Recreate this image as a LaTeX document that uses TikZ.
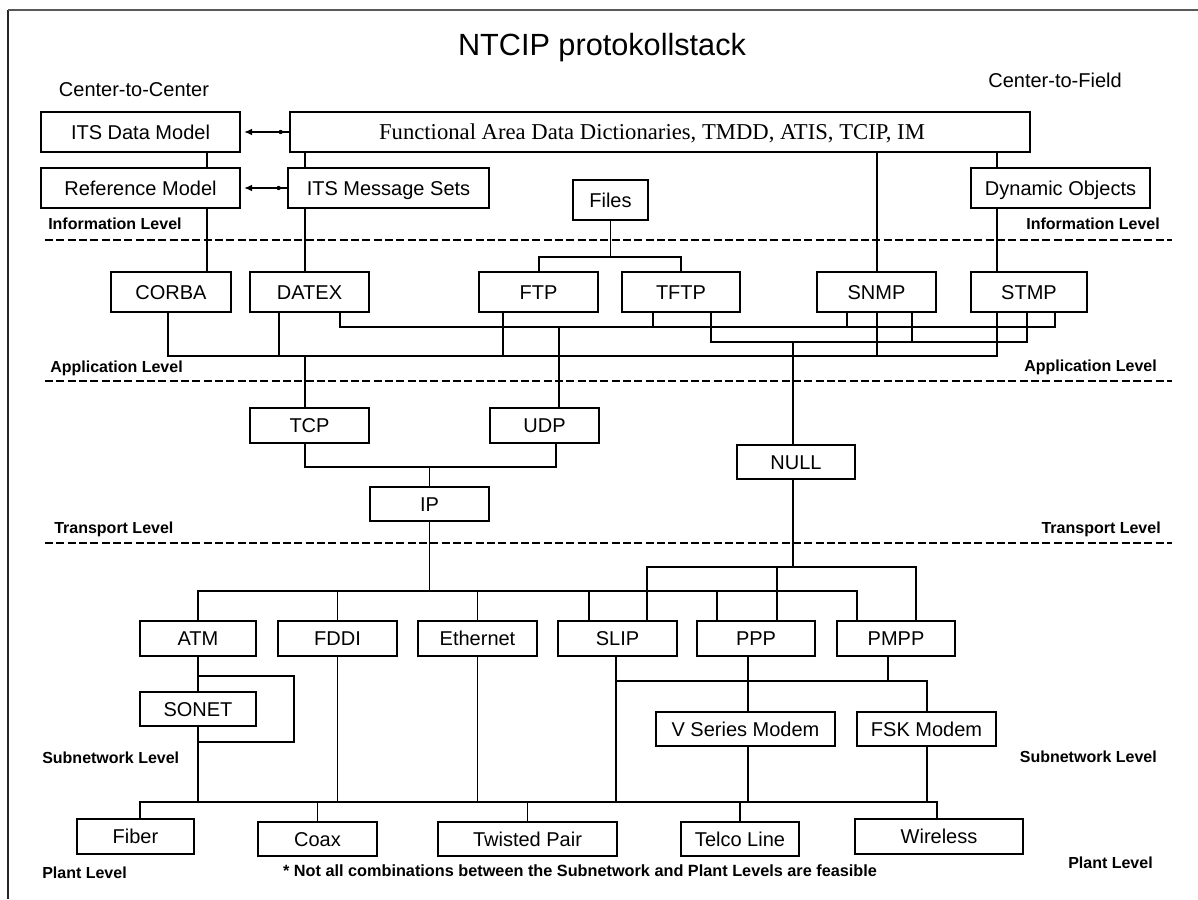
\documentclass[tikz,border=0pt]{standalone}
\usepackage{fontspec}
\setmainfont{Liberation Sans}
\newfontfamily\serifface{Liberation Serif}
\usetikzlibrary{arrows.meta}

% box given by its corners in pixel units: name, x1, y1, x2, y2, text
\newcommand\stackbox[6]{%
  \node[box, minimum width={(#4-#2)*0.75pt}, minimum height={(#5-#3)*0.75pt}]
    (#1) at ({(#2+#4)/2},{(#3+#5)/2}) {#6};}

\begin{document}
\begin{tikzpicture}[x=0.75pt,y=-0.75pt,
  box/.style={draw, line width=1.2pt, inner sep=0pt, outer sep=0pt, fill=white,
    font=\fontsize{15}{18}\selectfont, text height=10.7pt, text depth=0pt},
  wire/.style={line width=1.2pt},
  level/.style={font=\bfseries\fontsize{12}{14}\selectfont, inner sep=0pt},
  divider/.style={line width=0.9pt, dash pattern=on 6pt off 2.5pt},
  side/.style={font=\fontsize{15}{18}\selectfont, inner sep=0pt}]

\fill[white] (0,0) rectangle (1198,899);
\useasboundingbox (0,0) rectangle (1198,899);

% frame
\draw[line width=1.1pt, black!85] (8,899) -- (8,10);
\draw[line width=2.2pt, black!65] (8,10) -- (1198,10);

% column and bus positions
\foreach \c in {140,168,207,279,294,305,340,503,539,556,559,589,616,647,653,681,711,717,748,777,793,847,857,877,888,912,916,927,937,997,1027,1055}
  \coordinate (c\c) at (\c,0);
\coordinate (yFl) at (0,257);
\coordinate (yA) at (0,327);
\coordinate (yB) at (0,342);
\coordinate (yC) at (0,356);
\coordinate (yTI) at (0,467);
\coordinate (yE) at (0,567);
\coordinate (yD) at (0,591);
\coordinate (yL1) at (0,676);
\coordinate (yG) at (0,681);
\coordinate (yL2) at (0,742);
\coordinate (yF) at (0,802);

% headings
\node[font=\fontsize{23}{26}\selectfont] (title) at (602,48) {NTCIP protokollstack};
\node[side] (c2c) at (134,90) {Center-to-Center};
\node[side] (c2f) at (1055,80) {Center-to-Field};

% level dividers
\coordinate (d1l) at (45,240);  \coordinate (d1r) at (1172,240);
\coordinate (d2l) at (45,381);  \coordinate (d2r) at (1172,381);
\coordinate (d3l) at (45,543);  \coordinate (d3r) at (1172,543);
\draw[divider] (d1l) -- (d1r);
\draw[divider] (d2l) -- (d2r);
\draw[divider] (d3l) -- (d3r);

\node[level, anchor=west] (infoL) at (48,224) {Information Level};
\node[level, anchor=east] (infoR) at (1160,224) {Information Level};
\node[level, anchor=west] (appL) at (50,368) {Application Level};
\node[level, anchor=east] (appR) at (1157,367) {Application Level};
\node[level, anchor=west] (trL) at (54,529) {Transport Level};
\node[level, anchor=east] (trR) at (1161,529) {Transport Level};
\node[level, anchor=west] (subL) at (42,758) {Subnetwork Level};
\node[level, anchor=east] (subR) at (1157,757) {Subnetwork Level};
\node[level, anchor=west] (plL) at (42,873) {Plant Level};
\node[level, anchor=east] (plR) at (1153,863) {Plant Level};

\node[font=\bfseries\fontsize{12.2}{14}\selectfont] (note) at (580,871)
  {* Not all combinations between the Subnetwork and Plant Levels are feasible};

% information level
\stackbox{itsdm}{41}{112}{240}{152}{ITS Data Model}
\stackbox{fadd}{290}{112}{1030}{152}{\serifface\fontsize{17}{20}\selectfont Functional Area Data Dictionaries, TMDD, ATIS, TCIP, IM\hspace*{12pt}}
\stackbox{refm}{41}{168}{240}{208}{Reference Model}
\stackbox{itsms}{288}{168}{489}{208}{ITS Message Sets}
\stackbox{files}{573}{180}{648}{220}{Files}
\stackbox{dyn}{971}{168}{1150}{208}{Dynamic Objects}

% application level
\stackbox{corba}{111}{272}{231}{312}{CORBA}
\stackbox{datex}{250}{272}{369}{312}{DATEX}
\stackbox{ftp}{479}{272}{598}{312}{FTP}
\stackbox{tftp}{622}{272}{740}{312}{TFTP}
\stackbox{snmp}{817}{272}{936}{312}{SNMP}
\stackbox{stmp}{971}{272}{1087}{312}{STMP}

% transport level
\stackbox{tcp}{250}{408}{369}{443}{TCP}
\stackbox{udp}{490}{408}{599}{443}{UDP}
\stackbox{null}{737}{445}{855}{479}{NULL}
\stackbox{ip}{370}{487}{489}{521}{IP}

% subnetwork level
\stackbox{atm}{140}{621}{256}{656}{ATM}
\stackbox{fddi}{278}{621}{397}{656}{FDDI}
\stackbox{eth}{418}{621}{537}{656}{Ethernet}
\stackbox{slip}{558}{621}{677}{656}{SLIP}
\stackbox{ppp}{697}{621}{815}{656}{PPP}
\stackbox{pmpp}{837}{621}{955}{656}{PMPP}
\stackbox{sonet}{140}{692}{256}{726}{SONET}
\stackbox{vsm}{656}{712}{835}{746}{V Series Modem}
\stackbox{fsk}{857}{712}{996}{746}{FSK Modem}

% plant level
\stackbox{fiber}{77}{819}{194}{854}{Fiber}
\stackbox{coax}{258}{822}{377}{856}{Coax}
\stackbox{tp}{438}{822}{617}{856}{Twisted Pair}
\stackbox{telco}{681}{822}{799}{856}{Telco Line}
\stackbox{wireless}{855}{819}{1023}{854}{Wireless}

% information level links
\draw[wire, {Latex[length=6pt,width=5pt]}-, shorten <=3pt] (itsdm.east) -- (fadd.west);
\fill ([xshift=-7pt]fadd.west) circle (1.6pt);
\draw[wire, {Latex[length=6pt,width=5pt]}-, shorten <=3pt] (refm.east) -- (itsms.west);
\fill ([xshift=-7pt]itsms.west) circle (1.6pt);
\draw[wire] (c207 |- itsdm.south) -- (c207 |- refm.north);
\draw[wire] (c207 |- refm.south) -- (c207 |- corba.north);
\draw[wire] (c305 |- fadd.south) -- (c305 |- itsms.north);
\draw[wire] (c305 |- itsms.south) -- (c305 |- datex.north);
\draw[wire] (c877 |- fadd.south) -- (c877 |- snmp.north);
\draw[wire] (c997 |- fadd.south) -- (c997 |- dyn.north);
\draw[wire] (c997 |- dyn.south) -- (c997 |- stmp.north);
\draw[wire] (files.south) -- (files.south |- yFl);
\draw[wire] (c539 |- ftp.north) -- (c539 |- yFl) -- (c681 |- yFl) -- (c681 |- tftp.north);

% application buses
\draw[wire] (c340 |- datex.south) -- (c340 |- yA) -- (c1055 |- yA) -- (c1055 |- stmp.south);
\draw[wire] (c653 |- tftp.south) -- (c653 |- yA);
\draw[wire] (c847 |- snmp.south) -- (c847 |- yA);
\draw[wire] (c559 |- yA) -- (c559 |- udp.north);

\draw[wire] (c711 |- tftp.south) -- (c711 |- yB) -- (c1027 |- yB) -- (c1027 |- stmp.south);
\draw[wire] (c912 |- snmp.south) -- (c912 |- yB);
\draw[wire] (c793 |- yB) -- (c793 |- null.north);

\draw[wire] (c168 |- corba.south) -- (c168 |- yC) -- (c997 |- yC) -- (c997 |- stmp.south);
\draw[wire] (c279 |- datex.south) -- (c279 |- yC);
\draw[wire] (c503 |- ftp.south) -- (c503 |- yC);
\draw[wire] (c877 |- snmp.south) -- (c877 |- yC);
\draw[wire] (c305 |- yC) -- (c305 |- tcp.north);

% transport links
\draw[wire] (c305 |- tcp.south) -- (c305 |- yTI) -- (c556 |- yTI) -- (c556 |- udp.south);
\draw[wire] (ip.north |- yTI) -- (ip.north);
\draw[wire] (ip.south) -- (ip.south |- yD);
\draw[wire] (atm.north) -- (atm.north |- yD) -- (c857 |- yD) -- (c857 |- pmpp.north);
\draw[wire] (fddi.north |- yD) -- (fddi.north);
\draw[wire] (eth.north |- yD) -- (eth.north);
\draw[wire] (c589 |- yD) -- (c589 |- slip.north);
\draw[wire] (c717 |- yD) -- (c717 |- ppp.north);

\draw[wire] (c793 |- null.south) -- (c793 |- yE);
\draw[wire] (c647 |- slip.north) -- (c647 |- yE) -- (c916 |- yE) -- (c916 |- pmpp.north);
\draw[wire] (c777 |- yE) -- (c777 |- ppp.north);

% subnetwork links
\draw[wire] (atm.south) -- (sonet.north);
\draw[wire] (atm.south |- yL1) -- (c294 |- yL1) -- (c294 |- yL2) -- (atm.south |- yL2);
\draw[wire] (sonet.south) -- (sonet.south |- yF);
\draw[wire] (fddi.south) -- (fddi.south |- yF);
\draw[wire] (eth.south) -- (eth.south |- yF);
\draw[wire] (c616 |- slip.south) -- (c616 |- yF);
\draw[wire] (c616 |- yG) -- (c927 |- yG) -- (c927 |- fsk.north);
\draw[wire] (c888 |- pmpp.south) -- (c888 |- yG);
\draw[wire] (c748 |- ppp.south) -- (c748 |- vsm.north);
\draw[wire] (c748 |- vsm.south) -- (c748 |- yF);
\draw[wire] (c927 |- fsk.south) -- (c927 |- yF);

% plant bus
\draw[wire] (c140 |- fiber.north) -- (c140 |- yF) -- (c937 |- yF) -- (c937 |- wireless.north);
\draw[wire] (coax.north |- yF) -- (coax.north);
\draw[wire] (tp.north |- yF) -- (tp.north);
\draw[wire] (telco.north |- yF) -- (telco.north);

\end{tikzpicture}
\end{document}
